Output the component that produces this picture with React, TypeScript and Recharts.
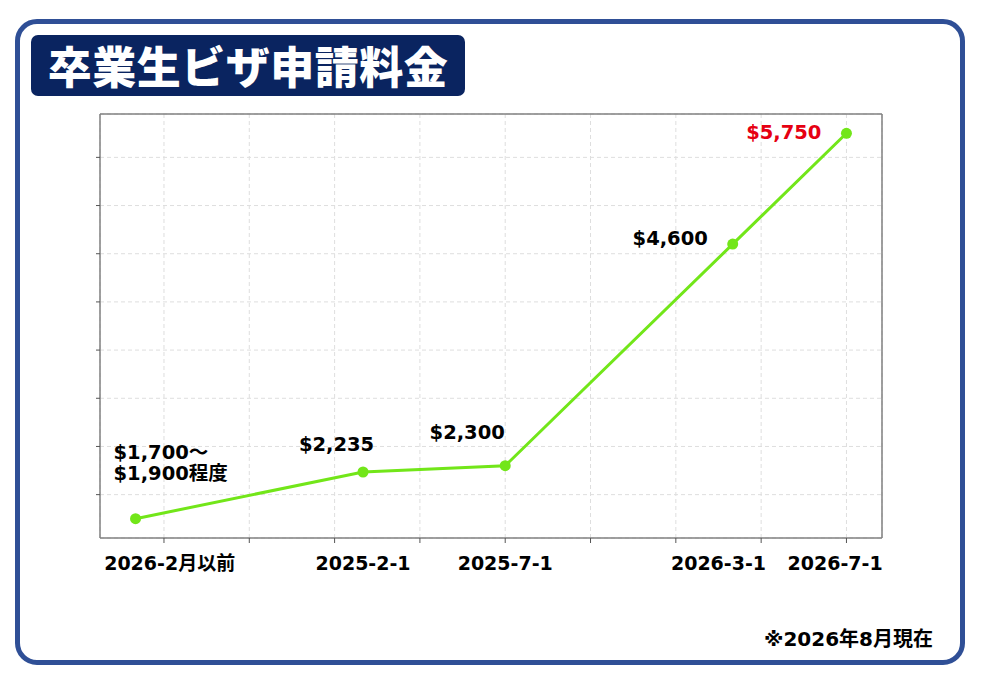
import { CartesianGrid, LabelList, Line, LineChart, XAxis, YAxis } from "recharts";

// x = months counted from 2024-06, y = fee in AUD
const MONTHS = [0, 8, 13, 21, 25];
const FEES = [1750, 2235, 2300, 4600, 5750];
const FEE_LABELS = [["$1,700～", "$1,900程度"], ["$2,235"], ["$2,300"], ["$4,600"], ["$5,750"]];

const GRID_X = [1, 4, 7, 10, 13, 16, 19, 22, 25];
const GRID_Y = [2000, 2500, 3000, 3500, 4000, 4500, 5000, 5500];
const DATE_TICKS = [1.2, 8, 13, 20.5, 24.6];
const DATE_LABELS = ["2026-2月以前", "2025-2-1", "2025-7-1", "2026-3-1", "2026-7-1"];

const X_DOMAIN: [number, number] = [-1.25, 26.25];
const Y_DOMAIN: [number, number] = [1550, 5950];

const data = MONTHS.map((m, i) => ({ m, fee: FEES[i], label: i }));

const GREEN = "#72e619";
const NAVY = "#0a2460";
const FRAME = "#2f4f96";
const RED = "#e60012";
const AXIS = "#808080";
const FONT = "'DejaVu Sans', 'Noto Sans CJK JP', sans-serif";
const CJK = "'Noto Sans CJK JP', sans-serif";
const blank = () => "";

// where each value label sits relative to its point
const LABEL_OFFSETS = [
  [-22, -60],
  [-26.5, -21],
  [-38, -27],
  [-62.5, 1],
  [-62.7, 6],
];

function FeeLabel(props: any) {
  const { x, y, index } = props;
  const lines = FEE_LABELS[index];
  const [dx, dy] = LABEL_OFFSETS[index];
  const last = index === FEE_LABELS.length - 1;
  return (
    <text
      x={x + dx}
      y={y + dy}
      textAnchor={index === 0 ? "start" : "middle"}
      fontFamily={FONT}
      fontWeight="bold"
      fontSize={19.5}
      fill={last ? RED : "#000"}
    >
      {lines.map((t: string, i: number) => (
        <tspan key={i} x={x + dx} dy={i === 0 ? 0 : 21}>
          {t}
        </tspan>
      ))}
    </text>
  );
}

export default function App() {
  return (
    <div style={{ position: "absolute", left: 0, top: 0, width: 983, height: 687, background: "#fff" }}>
      <div
        style={{
          position: "absolute",
          left: 15,
          top: 19,
          width: 950,
          height: 646,
          border: `5px solid ${FRAME}`,
          borderRadius: 22,
          boxSizing: "border-box",
        }}
      />
      <div
        style={{
          position: "absolute",
          left: 31,
          top: 35,
          width: 434,
          height: 61,
          background: NAVY,
          borderRadius: 7,
          color: "#fff",
          fontFamily: CJK,
          fontWeight: 900,
          fontSize: 44,
          lineHeight: "61px",
          textAlign: "center",
          letterSpacing: 0.5,
        }}
      >
        卒業生ビザ申請料金
      </div>
      <div
        style={{
          position: "absolute",
          right: 983 - 933,
          top: 626,
          fontFamily: FONT,
          fontWeight: "bold",
          fontSize: 20,
          lineHeight: "26px",
          color: "#000",
        }}
      >
        ※2026年8月現在
      </div>
      <div style={{ position: "absolute", left: 0, top: 0 }}>
        <LineChart width={983} height={687} data={data} margin={{ top: 113, right: 100, bottom: 118, left: 99 }}>
          <CartesianGrid stroke="#dedede" strokeDasharray="4 3" />
          <XAxis
            type="number"
            dataKey="m"
            domain={X_DOMAIN}
            ticks={GRID_X}
            tickFormatter={blank}
            tickSize={5}
            height={1}
            allowDataOverflow
            interval={0}
            axisLine={{ stroke: AXIS, strokeWidth: 1.5 }}
            tickLine={{ stroke: "#555" }}
          />
          <XAxis
            xAxisId="dates"
            type="number"
            dataKey="m"
            domain={X_DOMAIN}
            ticks={DATE_TICKS}
            tickFormatter={(_v: number, i: number) => DATE_LABELS[i]}
            axisLine={false}
            tickLine={false}
            height={30}
            tickMargin={12}
            allowDataOverflow
            interval={0}
            tick={{ fill: "#000", fontSize: 19, fontWeight: "bold", fontFamily: FONT }}
          />
          <XAxis
            xAxisId="top"
            orientation="top"
            type="number"
            dataKey="m"
            domain={X_DOMAIN}
            tick={false}
            tickLine={false}
            height={1}
            allowDataOverflow
            axisLine={{ stroke: AXIS, strokeWidth: 1.5 }}
          />
          <YAxis
            type="number"
            domain={Y_DOMAIN}
            ticks={GRID_Y}
            tickFormatter={blank}
            tickSize={4}
            width={1}
            allowDataOverflow
            interval={0}
            axisLine={{ stroke: AXIS, strokeWidth: 1.5 }}
            tickLine={{ stroke: "#555" }}
          />
          <YAxis
            yAxisId="right"
            orientation="right"
            type="number"
            dataKey="fee"
            domain={Y_DOMAIN}
            tick={false}
            tickLine={false}
            width={1}
            allowDataOverflow
            axisLine={{ stroke: AXIS, strokeWidth: 1.5 }}
          />
          <Line
            dataKey="fee"
            stroke={GREEN}
            strokeWidth={3}
            dot={{ r: 5.5, fill: GREEN, stroke: GREEN, strokeWidth: 0 }}
            isAnimationActive={false}
          >
            <LabelList dataKey="label" content={FeeLabel} />
          </Line>
        </LineChart>
      </div>
    </div>
  );
}
